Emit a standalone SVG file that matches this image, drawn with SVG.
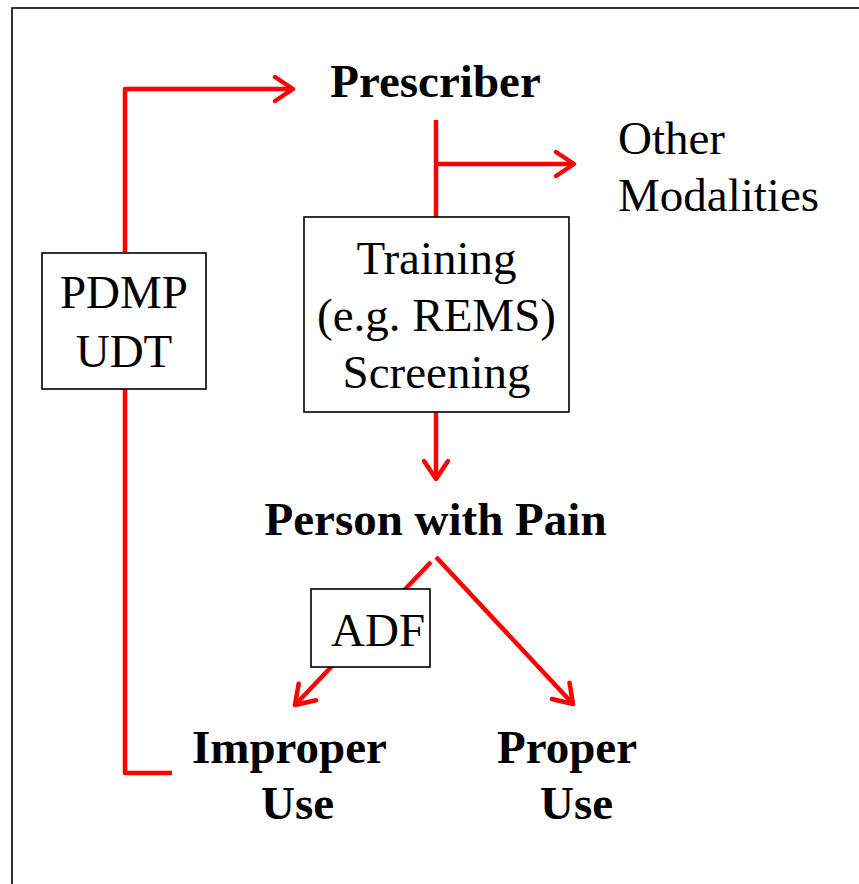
<svg xmlns="http://www.w3.org/2000/svg" width="859" height="884" viewBox="0 0 859 884">
<style>
.t{font-family:"Liberation Serif","Times New Roman",serif;font-size:47px;fill:#000}
.b{font-weight:bold}
.box{fill:#fff;stroke:#000;stroke-width:1.6}
.c{fill:none;stroke:#ff0000;stroke-width:4.5;stroke-linejoin:round}
</style>
<defs>
<marker id="ah" markerUnits="userSpaceOnUse" markerWidth="40" markerHeight="40" viewBox="-25 -20 30 40" refX="0" refY="0" orient="auto">
<path d="M-18,-12 L0,0 L-18,12" fill="none" stroke="#ff0000" stroke-width="4.5" stroke-linecap="round" stroke-linejoin="round"/>
</marker>
</defs>
<rect width="859" height="884" fill="#fff"/>
<rect x="12" y="8" width="900" height="900" fill="none" stroke="#000" stroke-width="1.6"/>
<g id="connectors">
<path class="c" d="M125,252 V89 H293" marker-end="url(#ah)"/>
<path class="c" d="M125,389 V773 H172"/>
<path class="c" d="M436,120 V217"/>
<path class="c" d="M436,164 H574" marker-end="url(#ah)"/>
<path class="c" d="M436,412 V479" marker-end="url(#ah)"/>
<path class="c" d="M431,562 L295,705" marker-end="url(#ah)"/>
<path class="c" d="M436,557 L573,704" marker-end="url(#ah)"/>
</g>
<g id="prescriber"><text class="t b" x="435.5" y="97" text-anchor="middle">Prescriber</text></g>
<g id="other-modalities"><text class="t" x="618" y="154">Other</text><text class="t" x="618" y="211">Modalities</text></g>
<g id="training">
<rect class="box" x="304" y="217" width="265" height="195"/>
<text class="t" x="436.5" y="274" text-anchor="middle">Training</text>
<text class="t" x="436.5" y="331" text-anchor="middle">(e.g. REMS)</text>
<text class="t" x="436.5" y="388" text-anchor="middle">Screening</text>
</g>
<g id="pdmp">
<rect class="box" x="42" y="253" width="164" height="136"/>
<text class="t" x="124" y="308" text-anchor="middle">PDMP</text>
<text class="t" x="124" y="367" text-anchor="middle">UDT</text>
</g>
<g id="person"><text class="t b" x="435.5" y="535" text-anchor="middle">Person with Pain</text></g>
<g id="adf">
<rect class="box" x="311" y="589" width="119" height="78"/>
<text class="t" x="331" y="646">ADF</text>
</g>
<g id="improper"><text class="t b" x="192" y="763">Improper</text><text class="t b" x="261" y="819">Use</text></g>
<g id="proper"><text class="t b" x="497" y="763">Proper</text><text class="t b" x="540" y="819">Use</text></g>
</svg>
